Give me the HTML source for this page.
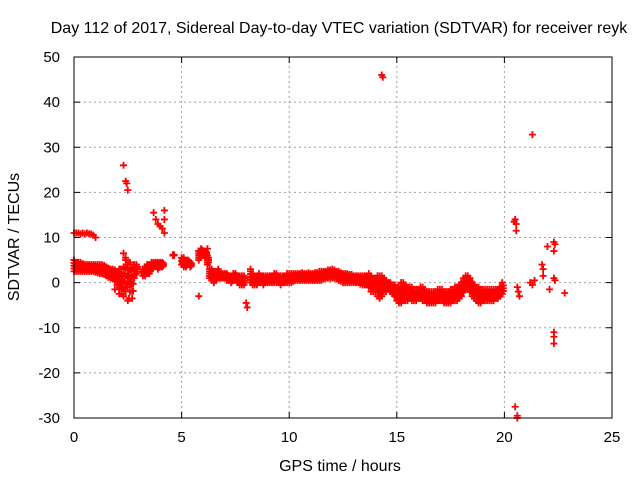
<!DOCTYPE html>
<html><head><meta charset="utf-8"><style>
body{margin:0;background:#fff}
svg{display:block;font-family:"Liberation Sans",sans-serif}
</style></head><body>
<svg id="chart" width="640" height="480">
<text x="339" y="33" font-size="16" text-anchor="middle">Day 112 of 2017, Sidereal Day-to-day VTEC variation (SDTVAR) for receiver reyk</text>
<g id="grid"></g>
<g id="marks"></g>
<rect x="74" y="57" width="538" height="361" fill="none" stroke="#000" stroke-width="1"/>
<g id="ticks"></g>
<text x="340" y="471" font-size="16" text-anchor="middle">GPS time / hours</text>
<text transform="translate(19,237) rotate(-90)" font-size="16" text-anchor="middle">SDTVAR / TECUs</text>
</svg>
<script>
const xTicks=[0,5,10,15,20,25];
const yTicks=[-30,-20,-10,0,10,20,30,40,50];
const bandHi=[5,4.5,4.5,4.5,4.2,4,4,4,4,4, 4,4,4,4,3.8,3.5,3.2,3,3,2.8, 2.5,3,3,3.5,5,4,4.5,3,4,4,
null,null,3,3.5,4,4,4.5,4.5,4.5,4.5, 4.5,4.5,null,null,null,null,6.2,null,null,null, 5.5,5.5,5,5,4.5,null,null,null,7,7.5,
7,7,6,3,3,2.5,2.5,3,2,2, 2,2,1.5,1.5,2,2,1.5,1.5,1.5,1.5, null,null,2.5,2,1.5,1.5,2,1.5,1.5,1.5,
1.5,1.5,1.5,2,2,1.5,1.5,1.5,1.5,2, 2,2,2,2,2,2,2.2,2,2,2.2, 2,2,2.2,2.2,2.5,2.5,2.5,2.5,2.8,2.8,
3,2.8,2.5,2.5,2.2,2,2,2,1.8,1.8, 1.5,1.5,1.5,1.5,1.5,1.5,1.5,2,1.5,1, 1,1.5,1.5,1.5,1,0.5,0,0,-0.5,-0.5,
-1,-1,0,0,-0.5,-1,-1,-1,-1.5,-1.5, -1.5,-1,-1,-1.5,-2,-2,-2,-2,-2,-1.5, -1.5,-1.5,-2,-2,-2,-1.5,-1.5,-1,-1,-0.5,
0,1,1.5,1.5,1,0,-0.5,-1,-1,-1.5, -1.5,-1.5,-1.5,-1.5,-1.5,-1.5,-1.5,-1.5,-1,0];
const bandLo=[2.5,2.5,2.5,2.5,2.5,2.5,2.5,2.5,2.5,2.5, 2.3,2.2,2,2,1.8,1.5,1.2,1,0.8,0.5, -0.5,-1.5,-2.5,-3,-2,-1,-2,-3.5,1,2,
null,null,1.5,1.5,2,2,3,3.5,3.5,3, 3.5,3.5,null,null,null,null,6,null,null,null, 4,3.5,3.5,4,3.5,null,null,null,5,6.5,
6,6,4,1,0.5,0,0.5,1,1,1, 1,0.5,0.5,0,0.5,0.5,0,-0.5,-0.5,-0.5, null,null,0,-0.5,-0.5,-0.5,0,0,-0.5,0,
0,0,0,0,0,0,-0.5,0,0,0, 0,0,0.3,0.5,0.5,0.5,0.5,0.5,0.5,0.5, 0.5,0.5,0.5,0.5,0.5,0.5,0.8,1,1,1,
1,1,0.8,0.5,0.3,0,0,0,0,0, 0,0,0,-0.3,-0.5,-0.5,-0.5,-1,-2,-2, -2,-3,-3.5,-3,-2,-2,-1.5,-2,-2.5,-3,
-4,-4.5,-4.5,-4,-4,-4,-3.5,-4,-4,-4, -3.5,-3.5,-4,-4,-4.5,-4.5,-4.5,-4.5,-4.5,-4, -4,-4,-4.5,-4.5,-4.5,-4.5,-4,-4,-4,-3.5,
-3,-2,-1.5,-1.5,-2,-3,-3.5,-4,-4.5,-4.5, -4,-4,-4,-4,-4,-4,-3.5,-3.5,-3,-2.5];
const bandStep=0.1;
const extraX=[0,0.1,0.2,0.3,0.4,0.5,0.6,0.7,0.8,0.9,1.0, 14.3,14.35, 2.3,2.4,2.45,2.5,2.3,2.4, 3.7,3.8,3.9,4.0,4.1,4.2,4.2,4.2,
20.45,20.5,20.55,20.55, 20.5,20.6,20.6, 21.3, 21.75,21.8,21.8, 21.2,21.3,21.4, 22.0,22.3,22.35,22.3, 22.3,22.3,22.3,
22.1,22.3,22.35, 22.8, 20.7,20.6,20.65, 5.8,8.0,8.05,8.2,7.7,6.2,5.8,2.5,2.55,1.9,2.1];
const extraY=[11,11,11,10.8,11,10.8,11,10.8,10.8,10.5,10, 46,45.5, 26,22.5,22,20.5,6.5,5.5, 15.5,14,13,12.5,12,16,14,11,
13.5,14,13,11.5, -27.5,-29.5,-30, 32.8, 4,3,1.5, 0,-0.5,0.5, 8,9,8.5,7, -11,-12,-13.5,
-1.5,1,0.5, -2.3, -3,-1,-2, -3,-4.5,-5.5,3,1,7.5,7,-4,-3.5,-1.5,-2.5];
const X0=74,X1=612,Y0=418,Y1=57;
const xs=v=>X0+(v-0)/25*(X1-X0);
const ys=v=>Y0-(v+30)/80*(Y0-Y1);
const NS="http://www.w3.org/2000/svg";
const grid=document.getElementById('grid'),ticks=document.getElementById('ticks'),marks=document.getElementById('marks'),svg=document.getElementById('chart');
function line(p,x1,y1,x2,y2,st,sw,dash){const l=document.createElementNS(NS,'line');l.setAttribute('x1',x1);l.setAttribute('y1',y1);l.setAttribute('x2',x2);l.setAttribute('y2',y2);l.setAttribute('stroke',st);l.setAttribute('stroke-width',sw);if(dash)l.setAttribute('stroke-dasharray',dash);p.appendChild(l);return l;}
function text(x,y,s,anchor){const t=document.createElementNS(NS,'text');t.setAttribute('x',x);t.setAttribute('y',y);t.setAttribute('font-size','15');t.setAttribute('text-anchor',anchor);t.textContent=s;svg.appendChild(t);return t;}
xTicks.forEach(v=>{const x=xs(v);
 if(v>0&&v<25){const g=line(grid,x,Y0,x,Y1,'#a0a0a0',1,'2,3');}
 const t1=line(ticks,x,Y0,x,Y0-6,'#000',1);
 const t2=line(ticks,x,Y1,x,Y1+6,'#000',1);
 const l=text(x,442,String(v),'middle');});
yTicks.forEach(v=>{const y=ys(v);
 if(v>-30&&v<50){const g=line(grid,X0,y,X1,y,'#a0a0a0',1,'2,3');}
 const t1=line(ticks,X0,y,X0+6,y,'#000',1);
 const t2=line(ticks,X1,y,X1-6,y,'#000',1);
 const l=text(60,y+5,String(v),'end');});
function plus(vx,vy){const x=xs(vx),y=ys(vy);const p=document.createElementNS(NS,'path');
 p.setAttribute('d',`M${x-3.5},${y}H${x+3.5}M${x},${y-3.5}V${y+3.5}`);p.setAttribute('stroke','#f00');p.setAttribute('stroke-width','1.8');
 
 
 marks.appendChild(p);}
bandHi.forEach((h,i)=>{const lo=bandLo[i];if(h==null||lo==null)return;const x=i*bandStep;
 plus(x,h);plus(x,lo);plus(x,(h+lo)/2);if(h-lo>1.5){plus(x,h-(h-lo)/4);plus(x,lo+(h-lo)/4);}
 plus(x+bandStep/2,(h+lo)/2);plus(x+bandStep/2,h-(h-lo)/4);plus(x+bandStep/2,lo+(h-lo)/4);});
extraX.forEach((x,i)=>plus(x,extraY[i]));
</script>
</body></html>
